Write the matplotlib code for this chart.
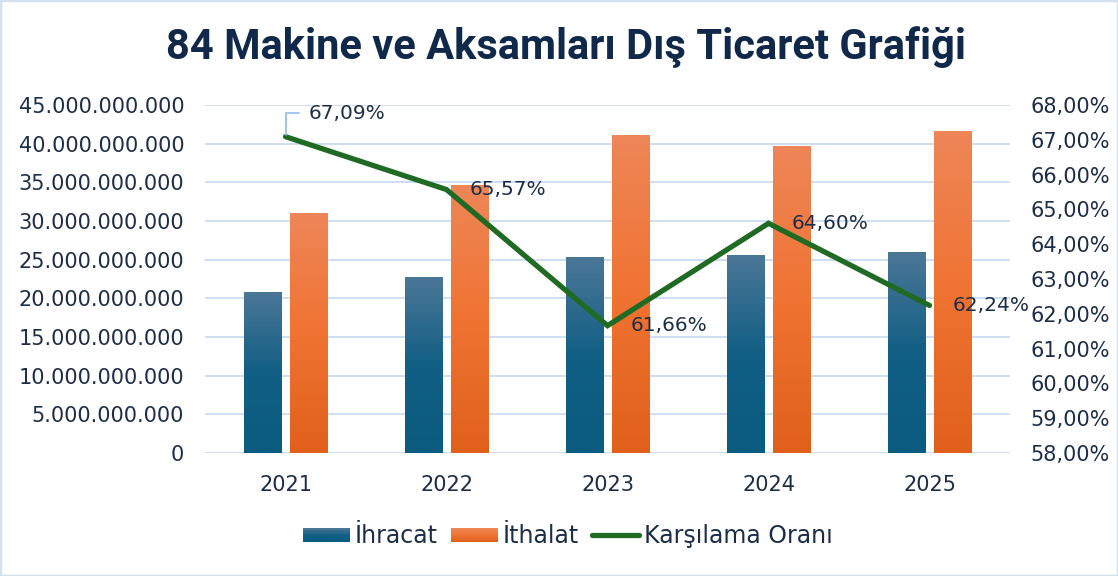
"""
84 Makine ve Aksamlari Dis Ticaret Grafigi
Grouped gradient bars (export / import) with coverage ratio line on a twin axis.
"""

import numpy as np
import matplotlib
matplotlib.use('Agg')
import matplotlib.pyplot as plt
from matplotlib.colors import LinearSegmentedColormap
from matplotlib.patches import Rectangle, Patch
from matplotlib.lines import Line2D
from matplotlib.legend_handler import HandlerBase
from matplotlib.ticker import FuncFormatter, MultipleLocator

# data
years = ['2021', '2022', '2023', '2024', '2025']
ihracat = [20.8e9, 22.7e9, 25.3e9, 25.6e9, 25.9e9]
ithalat = [31.0e9, 34.6e9, 41.0e9, 39.6e9, 41.6e9]
karsilama = [67.09, 65.57, 61.66, 64.60, 62.24]

TEXT = '#1c2e47'
GRID = '#cddff2'
BLUE_TOP, BLUE_BOT = '#4b7797', '#0b5a7f'
ORANGE_TOP, ORANGE_BOT = '#ee8658', '#e0601b'
GREEN = '#1f6b24'

blue_cmap = LinearSegmentedColormap.from_list('blue', [BLUE_BOT, '#115f84', BLUE_TOP])
orange_cmap = LinearSegmentedColormap.from_list('orange', [ORANGE_BOT, '#f07332', ORANGE_TOP])


class GradientHandler(HandlerBase):
    """Legend box filled with a vertical gradient made of thin strips."""

    def __init__(self, cmap, n=12):
        super().__init__()
        self.cmap = cmap
        self.n = n

    def create_artists(self, legend, orig_handle, xdescent, ydescent,
                       width, height, fontsize, trans):
        artists = []
        h = height * 0.85
        y0 = -ydescent + (height - h) / 2
        for i in range(self.n):
            c = self.cmap(i / (self.n - 1))
            r = Rectangle((-xdescent, y0 + i * h / self.n), width, h / self.n + 0.3,
                          facecolor=c, edgecolor='none', transform=trans)
            artists.append(r)
        return artists


plt.rcParams['font.family'] = ['DejaVu Sans']

fig = plt.figure(figsize=(11.18, 5.76), dpi=100)
ax = fig.add_axes([0.1834, 0.2135, 0.72, 0.6042])
ax2 = ax.twinx()

x = np.arange(len(years))
width = 0.23
bars_ex = ax.bar(x - 0.14, ihracat, width, color='none', zorder=2)
bars_im = ax.bar(x + 0.14, ithalat, width, color='none', zorder=2)

grad = np.linspace(0, 1, 256).reshape(-1, 1)
for bars, cmap in ((bars_ex, blue_cmap), (bars_im, orange_cmap)):
    for rect in bars:
        x0, y0 = rect.get_x(), rect.get_y()
        w, h = rect.get_width(), rect.get_height()
        ax.imshow(grad, extent=[x0, x0 + w, y0, y0 + h], origin='lower',
                  aspect='auto', cmap=cmap, zorder=2)

ax.set_xlim(-0.5, len(years) - 0.5)
ax.set_ylim(0, 45e9)
ax.yaxis.set_major_locator(MultipleLocator(5e9))
ax.yaxis.set_major_formatter(FuncFormatter(lambda v, p: f'{int(round(v)):,}'.replace(',', '.')))
ax.set_xticks(x)
ax.set_xticklabels(years)
ax.grid(axis='y', color=GRID, linewidth=1.4, zorder=0)
ax.set_axisbelow(True)

ax2.plot(x, karsilama, color=GREEN, linewidth=3.8, solid_capstyle='round',
         solid_joinstyle='miter', zorder=3)
ax2.set_ylim(58, 68)
ax2.yaxis.set_major_locator(MultipleLocator(1))
ax2.yaxis.set_major_formatter(FuncFormatter(lambda v, p: f'{v:.2f}%'.replace('.', ',')))

for a in (ax, ax2):
    for s in a.spines.values():
        s.set_visible(False)
    a.tick_params(length=0, labelsize=15, labelcolor=TEXT, pad=15)
ax.tick_params(axis='x', pad=16)

# data labels for the ratio line
for i, v in enumerate(karsilama):
    label = f'{v:.2f}%'.replace('.', ',')
    if i == 0:
        ax2.annotate(label, (x[i], v), xytext=(16.5, 17), textcoords='offset points',
                     ha='left', va='center', fontsize=14.5, color=TEXT,
                     arrowprops=dict(arrowstyle='-', color='#8fbde8', lw=1.2,
                                     shrinkA=5, shrinkB=1,
                                     connectionstyle='angle,angleA=0,angleB=90,rad=0'))
    else:
        ax2.annotate(label, (x[i], v), xytext=(16.5, 0), textcoords='offset points',
                     ha='left', va='center', fontsize=14.5, color=TEXT)

fig.text(0.506, 0.918, '84 Makine ve Aksamları Dış Ticaret Grafiği',
         ha='center', va='center', fontsize=30, fontweight='bold', color='#10294a',
         family=['Roboto', 'DejaVu Sans'])

handles = [Patch(label='İhracat'), Patch(label='İthalat'),
           Line2D([], [], color=GREEN, linewidth=3.8, solid_capstyle='round',
                  label='Karşılama Oranı')]
fig.legend(handles=handles, loc='center', bbox_to_anchor=(0.508, 0.069), ncol=3,
           frameon=False, fontsize=17, labelcolor=TEXT, handlelength=2.0,
           handletextpad=0.2, columnspacing=0.55,
           handler_map={handles[0]: GradientHandler(blue_cmap),
                        handles[1]: GradientHandler(orange_cmap)})

fig.patches.append(Rectangle((0, 0), 1, 1, transform=fig.transFigure, fill=False,
                             edgecolor='#d3e0ee', linewidth=2.5))

fig.savefig('out.png', dpi=100)
